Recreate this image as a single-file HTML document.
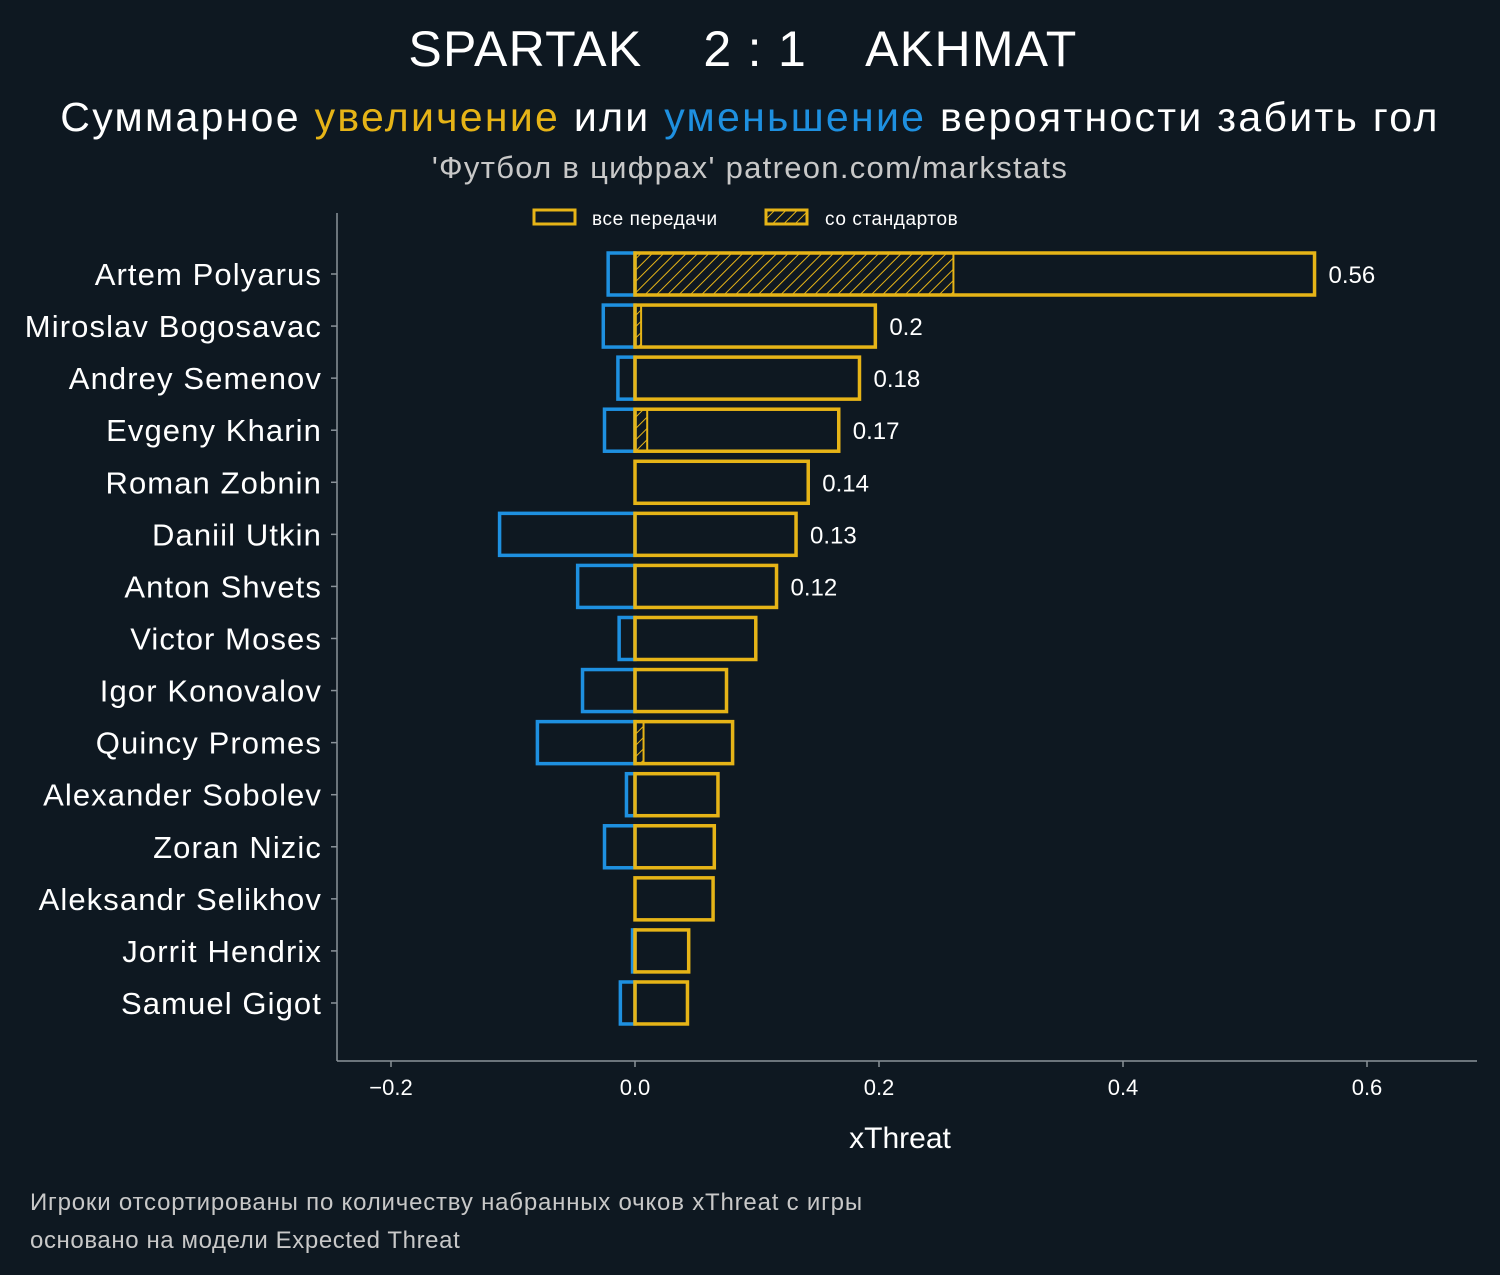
<!DOCTYPE html>
<html><head><meta charset="utf-8"><style>
html,body{margin:0;padding:0;background:#0e1821;}
svg{display:block;font-family:"Liberation Sans","DejaVu Sans",sans-serif;}
</style></head><body>
<svg id="chart" width="1500" height="1275" xmlns="http://www.w3.org/2000/svg">
<defs>
<pattern id="hatch" patternUnits="userSpaceOnUse" width="8" height="8" patternTransform="rotate(45)">
<line x1="0" y1="0" x2="0" y2="8" stroke="#e6b417" stroke-width="2"/>
</pattern>
</defs>
<rect width="1500" height="1275" fill="#0e1821"/>
<text x="743" y="66" text-anchor="middle" fill="#ffffff" font-size="50" letter-spacing="1.3" xml:space="preserve">SPARTAK    2 : 1    AKHMAT</text>
<text x="750" y="131" text-anchor="middle" fill="#ffffff" font-size="41" letter-spacing="2.3">Суммарное <tspan fill="#e6b417">увеличение</tspan> или <tspan fill="#1e90e0">уменьшение</tspan> вероятности забить гол</text>
<text x="750" y="178" text-anchor="middle" fill="#c8c8c8" font-size="31" letter-spacing="1.3">'Футбол в цифрах' patreon.com/markstats</text>
<g>
<rect x="534" y="210" width="41" height="14" fill="none" stroke="#e6b417" stroke-width="3"/>
<text x="592" y="225" fill="#ffffff" font-size="19" letter-spacing="0.6">все передачи</text>
<rect x="766" y="210" width="41" height="14" fill="url(#hatch)" stroke="#e6b417" stroke-width="3"/>
<text x="825" y="225" fill="#ffffff" font-size="19" letter-spacing="0.6">со стандартов</text>
</g>
<g id="plot"></g>
<text x="900" y="1148" text-anchor="middle" fill="#ffffff" font-size="30">xThreat</text>
<text x="30" y="1210" fill="#c8c8c8" font-size="24" letter-spacing="0.8">Игроки отсортированы по количеству набранных очков xThreat с игры</text>
<text x="30" y="1248" fill="#c8c8c8" font-size="24" letter-spacing="0.6">основано на модели Expected Threat</text>
</svg>
<script>
const players = ["Artem Polyarus","Miroslav Bogosavac","Andrey Semenov","Evgeny Kharin","Roman Zobnin","Daniil Utkin","Anton Shvets","Victor Moses","Igor Konovalov","Quincy Promes","Alexander Sobolev","Zoran Nizic","Aleksandr Selikhov","Jorrit Hendrix","Samuel Gigot"];
const positiveTotal = [0.557,0.197,0.184,0.167,0.142,0.132,0.116,0.099,0.075,0.080,0.068,0.065,0.064,0.044,0.043];
const setPieces = [0.261,0.005,0,0.010,0,0,0,0,0,0.007,0,0,0,0,0];
const negativeTotal = [-0.022,-0.026,-0.014,-0.025,0,-0.111,-0.047,-0.013,-0.043,-0.080,-0.007,-0.025,0,-0.002,-0.012];
const valueLabels = ["0.56","0.2","0.18","0.17","0.14","0.13","0.12","","","","","","","",""];
const xTicks = [-0.2,0.0,0.2,0.4,0.6];
const xTickLabels = ["\u22120.2","0.0","0.2","0.4","0.6"];

const NS="http://www.w3.org/2000/svg";
const g=document.getElementById('plot');
const x0=635, k=1220;
const xs=v=>x0+v*k;
const ys=i=>274+i*52.07;
const bh=42;
function el(t,a){const e=document.createElementNS(NS,t);for(const n in a)e.setAttribute(n,a[n]);g.appendChild(e);return e;}
let ax=el('line',{x1:337,y1:213,x2:337,y2:1061,stroke:'#8a9299','stroke-width':1.5});


let bx=el('line',{x1:337,y1:1061,x2:1477,y2:1061,stroke:'#8a9299','stroke-width':1.5});


xTicks.forEach((t,i)=>{
  const tk=el('line',{x1:xs(t),y1:1061,x2:xs(t),y2:1067,stroke:'#8a9299','stroke-width':1.5});
  
  
  const tl=el('text',{x:xs(t),y:1095,'text-anchor':'middle',fill:'#ffffff','font-size':22});
  tl.textContent=xTickLabels[i];
  
  
});
players.forEach((p,i)=>{
  const y=ys(i);
  const tk=el('line',{x1:331,y1:y,x2:337,y2:y,stroke:'#8a9299','stroke-width':1.5});
  
  
  const lb=el('text',{x:322,y:y+11,'text-anchor':'end',fill:'#ffffff','font-size':31,'letter-spacing':1.1});
  lb.textContent=p;
  
  
  if(negativeTotal[i]<0){
    const nb=el('rect',{x:xs(negativeTotal[i]),y:y-bh/2,width:xs(0)-xs(negativeTotal[i]),height:bh,fill:'none',stroke:'#1e90e0','stroke-width':3.5});
    
    
  }
  if(setPieces[i]>0){
    const hb=el('rect',{x:xs(0),y:y-bh/2,width:xs(setPieces[i])-xs(0),height:bh,fill:'url(#hatch)',stroke:'#e6b417','stroke-width':2});
    
    
  }
  const pb=el('rect',{x:xs(0),y:y-bh/2,width:xs(positiveTotal[i])-xs(0),height:bh,fill:'none',stroke:'#e6b417','stroke-width':3.5});
  
  
  if(valueLabels[i]){
    const vl=el('text',{x:xs(positiveTotal[i])+14,y:y+9,fill:'#ffffff','font-size':24});
    vl.textContent=valueLabels[i];
    
    
  }
});
</script>
</body></html>
